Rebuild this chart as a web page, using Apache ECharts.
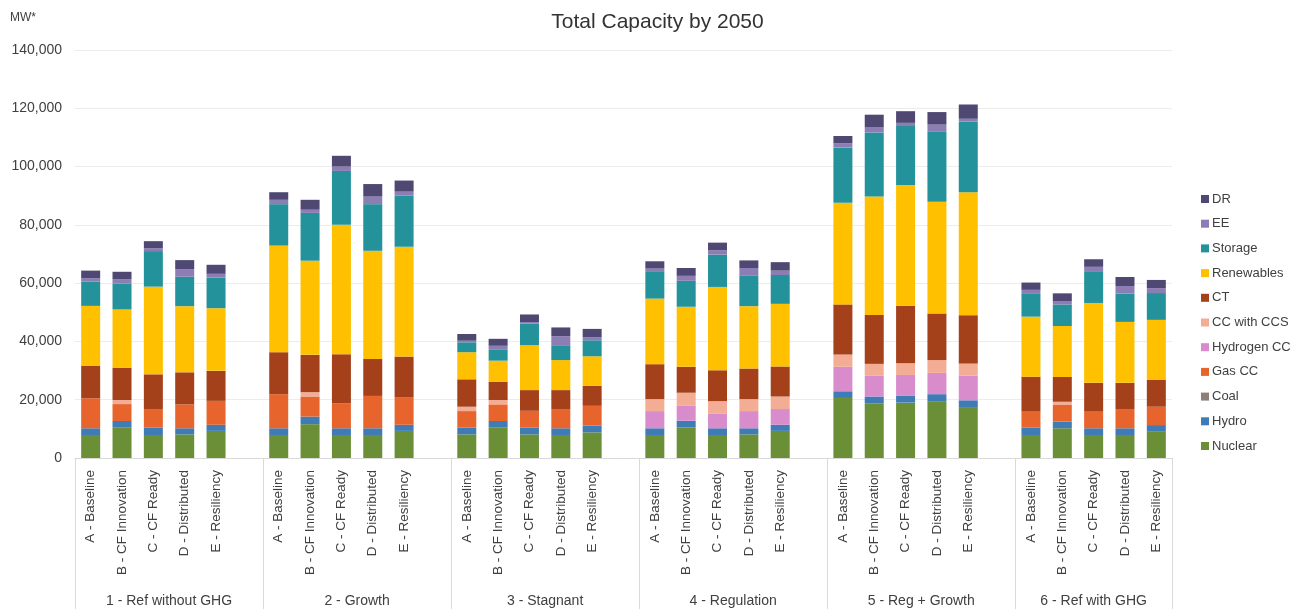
<!DOCTYPE html>
<html><head><meta charset="utf-8">
<script src="https://cdn.jsdelivr.net/npm/echarts@6/dist/echarts.min.js"></script>
<style>html,body{margin:0;padding:0;background:#fff}#c{width:1315px;height:609px}</style>
</head><body><div id="c"></div>
<script>
// ---- data ----
const groups = ['1 - Ref without GHG', '2 - Growth', '3 - Stagnant', '4 - Regulation', '5 - Reg + Growth', '6 - Ref with GHG'];
const scenarios = ['A - Baseline', 'B - CF Innovation', 'C - CF Ready', 'D - Distributed', 'E - Resiliency'];
const yTickValues = [0, 20000, 40000, 60000, 80000, 100000, 120000, 140000];

// values per group (5 scenarios each), MW
const nuclear   = [7900,10400,7900,8100,9300,  7900,11600,7900,7900,9300,  8100,10400,8100,7900,8800,  7900,10500,7900,8100,9300,  20600,18800,19000,19300,17200,  7900,10200,7900,7900,9000];
const hydro     = [2300,2300,2500,2100,2100,  2300,2600,2300,2300,2100,  2300,2300,2300,2300,2300,  2300,2300,2300,2100,2100,  2300,2300,2300,2600,2600,  2500,2300,2300,2300,2300];
const coal      = [0,0,0,0,0,  0,0,0,0,0,  0,0,0,0,0,  0,0,0,0,0,  0,0,0,0,0,  0,0,0,0,0];
const gasCC     = [10300,5800,6400,8200,8200,  11700,6900,8600,11100,9500,  5700,5700,5800,6600,6800,  0,0,0,0,0,  0,0,0,0,0,  5500,5700,5700,6600,6300];
const hydrogenCC= [0,0,0,0,0,  0,0,0,0,0,  0,0,0,0,0,  5900,5100,5100,5900,5400,  8400,7100,7200,7300,8500,  0,0,0,0,0];
const ccWithCCS = [0,1400,0,0,0,  0,1500,0,0,0,  1500,1500,0,0,0,  4100,4500,4200,4100,4300,  4200,4100,4000,4400,4100,  0,1100,0,0,0];
const ct        = [11100,11100,11900,11000,10300,  14400,12800,16800,12700,13900,  9400,6300,7100,6500,6900,  12000,8900,10600,10500,10300,  17200,16800,19700,16000,16600,  12000,8500,9900,9000,9200];
const renewables= [20600,20000,30100,22700,21500,  36600,32300,44400,37100,37700,  9300,7200,15400,10300,10100,  22500,20600,28600,21400,21500,  34900,40600,41500,38300,42200,  20600,17500,27400,20900,20600];
const storage   = [8300,8900,12200,10100,10500,  14200,16400,18500,16000,17500,  3400,3700,7400,5100,5500,  9400,8900,11100,10400,9900,  18900,22000,20200,24000,24200,  7800,7400,10900,9700,9200];
const ee        = [1200,1400,1000,2600,1300,  1500,1100,1500,2600,1400,  550,1400,550,3100,1000,  900,1700,1500,2700,1500,  1500,1700,1100,2500,1000,  1400,1000,1500,2600,1700];
const dr        = [2600,2600,2400,3100,3100,  2600,3400,3700,4300,3800,  2300,2400,2600,3000,2900,  2500,2700,2600,2600,2900,  2500,4400,4000,4300,4900,  2500,2800,2600,3100,2800];

const seriesDefs = [
  ['Nuclear', nuclear, '#6b8f37'],
  ['Hydro', hydro, '#3f7cb6'],
  ['Coal', coal, '#8c8079'],
  ['Gas CC', gasCC, '#e7642c'],
  ['Hydrogen CC', hydrogenCC, '#d98ccb'],
  ['CC with CCS', ccWithCCS, '#f3ad95'],
  ['CT', ct, '#a4411a'],
  ['Renewables', renewables, '#ffc000'],
  ['Storage', storage, '#24929a'],
  ['EE', ee, '#8d7db5'],
  ['DR', dr, '#4e4873']
];
const legendOrder = ['DR', 'EE', 'Storage', 'Renewables', 'CT', 'CC with CCS', 'Hydrogen CC', 'Gas CC', 'Coal', 'Hydro', 'Nuclear'];

// ---- build category layout (blank slot between groups) ----
const cats = [];
const groupLens = [];
groups.forEach((g, gi) => {
  scenarios.forEach(s => cats.push(s));
  let len = scenarios.length;
  if (gi < groups.length - 1) { cats.push(''); len += 1; }
  groupLens.push(len);
});
function expand(vals) {
  const out = [];
  let k = 0;
  groups.forEach((g, gi) => {
    for (let i = 0; i < scenarios.length; i++) out.push(vals[k++]);
    if (gi < groups.length - 1) out.push('-');
  });
  return out;
}
// half-slot axis for group labels & separators
const nSlots = cats.length;
const halfCats = new Array(nSlots * 2 + 1).fill('');
const sepIdx = new Set([0]);
let start = 0;
groups.forEach((g, gi) => {
  halfCats[2 * start + groupLens[gi]] = g;
  start += groupLens[gi];
  sepIdx.add(2 * start);
});

const textColor = '#404040';
const font = 'Liberation Sans, Arial, sans-serif';

const chart = echarts.init(document.getElementById('c'));
chart.setOption({
  animation: false,
  backgroundColor: '#fff',
  title: {
    text: 'Total Capacity by 2050', left: 'center', top: 7,
    textStyle: { fontSize: 21, fontWeight: 'normal', color: '#333', fontFamily: font }
  },
  graphic: [{ type: 'text', left: 10, top: 12, style: { text: 'MW*', fontSize: 12, fill: textColor, fontFamily: font } }],
  legend: {
    orient: 'vertical', left: 1196, top: 186,
    data: legendOrder, icon: 'rect', itemWidth: 8, itemHeight: 8, itemGap: 8.7,
    textStyle: { fontSize: 13, color: textColor, fontFamily: font, lineHeight: 16, padding: [0, 0, 0, -2] }
  },
  grid: { left: 75, right: 143, top: 50, bottom: 151, containLabel: false },
  xAxis: [
    {
      type: 'category', data: cats, position: 'bottom',
      axisLine: { lineStyle: { color: '#d9d9d9' } },
      axisTick: { show: false },
      axisLabel: { interval: 0, rotate: 90, fontSize: 13.5, color: textColor, fontFamily: font, margin: 12 }
    },
    {
      type: 'category', data: halfCats, position: 'bottom', boundaryGap: false,
      axisLine: { show: false },
      axisTick: { show: true, length: 152, interval: (i) => sepIdx.has(i), lineStyle: { color: '#d9d9d9' } },
      axisLabel: { interval: 0, fontSize: 14, color: textColor, fontFamily: font, margin: 136 },
      splitLine: { show: false }
    }
  ],
  yAxis: {
    type: 'value', min: 0, max: 140000, interval: 20000,
    axisLine: { show: false }, axisTick: { show: false },
    axisLabel: { fontSize: 14, color: textColor, fontFamily: font, margin: 13,
      formatter: v => yTickValues.includes(v) ? v.toLocaleString('en-US') : '' },
    splitLine: { lineStyle: { color: '#ececec' } }
  },
  series: seriesDefs.map(([name, vals, color]) => ({
    name, type: 'bar', stack: 'total', xAxisIndex: 0,
    data: expand(vals), barWidth: 19,
    itemStyle: { color }
  }))
});
</script></body></html>
